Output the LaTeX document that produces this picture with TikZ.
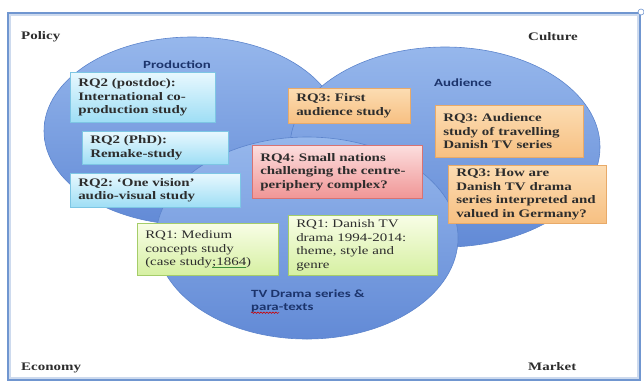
\documentclass[tikz,border=0pt]{standalone}
\usepackage{fontspec}
\setmainfont[FakeStretch=1.3]{Liberation Serif}
\newfontfamily\labelfont[FakeStretch=1.35]{Carlito}
\usetikzlibrary{shadows,decorations.pathmorphing}
\frenchspacing

\definecolor{framecol}{RGB}{112,150,208}
\definecolor{elltop}{RGB}{150,183,236}
\definecolor{ellbot}{RGB}{98,138,214}
\definecolor{ellline}{RGB}{92,132,204}
\definecolor{labelblue}{RGB}{28,52,108}
\definecolor{bluetop}{RGB}{232,248,254}
\definecolor{bluebot}{RGB}{158,222,245}
\definecolor{blueline}{RGB}{125,198,228}
\definecolor{orangetop}{RGB}{252,220,178}
\definecolor{orangebot}{RGB}{247,192,130}
\definecolor{orangeline}{RGB}{232,170,105}
\definecolor{pinktop}{RGB}{252,222,222}
\definecolor{pinkbot}{RGB}{240,150,150}
\definecolor{pinkline}{RGB}{215,115,115}
\definecolor{greentop}{RGB}{248,253,230}
\definecolor{greenbot}{RGB}{214,240,162}
\definecolor{greenline}{RGB}{165,205,105}
\definecolor{textgray}{RGB}{45,45,45}
\definecolor{gramgreen}{RGB}{60,140,60}

\newcommand{\gramline}[1]{\setbox0=\hbox{#1}\rlap{\textcolor{gramgreen}{\rule[-2.2pt]{\wd0}{0.6pt}}}#1}

\begin{document}
\begin{tikzpicture}[x=1pt, y=-1pt,
    rq/.style = {draw, anchor=north west, align=left, inner xsep=8pt, inner ysep=2pt, line width=0.5pt,
                 font=\fontsize{11.5}{13.5}\selectfont\bfseries, text=textgray,
                 drop shadow={shadow xshift=1.2pt, shadow yshift=-1.2pt, opacity=.3}},
    rqblue/.style = {rq, top color=bluetop, bottom color=bluebot, draw=blueline},
    rqorange/.style = {rq, top color=orangetop, bottom color=orangebot, draw=orangeline},
    rqpink/.style = {rq, top color=pinktop, bottom color=pinkbot, draw=pinkline},
    rqgreen/.style = {rq, top color=greentop, bottom color=greenbot, draw=greenline,
                      font=\fontsize{11.5}{13.5}\selectfont},
    bubble/.style = {top color=elltop, bottom color=ellbot, draw=ellline, line width=0.6pt},
    corner/.style = {anchor=west, inner sep=0pt, font=\fontsize{11.5}{14}\selectfont\bfseries, text=textgray},
    field/.style = {inner sep=0pt, font=\labelfont\bfseries\fontsize{11}{12.5}\selectfont, text=labelblue},
    squiggle/.style = {red!80!black, line width=0.6pt, decorate,
                       decoration={snake, amplitude=0.7pt, segment length=3pt}}]

    \useasboundingbox (0,0) rectangle (644,383);
    \draw[framecol!35, line width=2pt] (10,15) rectangle (638,378);
    \draw[framecol, line width=1.2pt] (8,13) rectangle (640,380);
    \draw[framecol, fill=white, line width=0.6pt] (641,12) circle [radius=3pt];

    % the three fields
    \draw[bubble] (192,131) ellipse [x radius=148pt, y radius=94pt];
    \draw[bubble] (445,147) ellipse [x radius=155pt, y radius=100pt];
    \draw[bubble] (307,238) ellipse [x radius=151pt, y radius=101pt];

    \node[corner] (policy) at (21,37) {Policy};
    \node[corner] (culture) at (528,37) {Culture};
    \node[corner] (economy) at (21,368) {Economy};
    \node[corner] (market) at (528,367) {Market};

    \node[field] (production) at (177,65) {Production};
    \node[field] (audience) at (463,83) {Audience};
    \node[field, anchor=west, align=left] (tvdrama) at (251,301) {TV Drama series \&\\ para-texts};
    \draw[squiggle] ([yshift=-0.5pt]tvdrama.south west) -- ++(28,0);

    % research questions
    \node[rqblue, text width=129pt, minimum height=50pt] (postdoc) at (70,72) {RQ2 (postdoc):\\ International co-\\ production study};
    \node[rqblue, text width=130pt, minimum height=33pt] (phd) at (82,131) {RQ2 (PhD):\\ Remake-study};
    \node[rqblue, text width=154pt, minimum height=34pt] (onevision) at (70,173) {RQ2: ‘One vision’\\ audio-visual study};
    \node[rqorange, text width=106pt, minimum height=35pt] (firstaud) at (288,88) {RQ3: First\\ audience study};
    \node[rqpink, text width=154pt, minimum height=53pt] (smallnat) at (252,145) {RQ4: Small nations\\ challenging the centre-\\ periphery complex?};
    \node[rqorange, text width=132pt, minimum height=52pt] (travel) at (435,105) {RQ3: Audience\\ study of travelling\\ Danish TV series};
    \node[rqorange, text width=142pt, minimum height=58pt] (germany) at (448,165) {RQ3: How are\\ Danish TV drama\\ series interpreted and\\ valued in Germany?};
    \node[rqgreen, text width=125pt, minimum height=52pt] (medium) at (137,223) {RQ1: Medium\\ concepts study\\ (case study\gramline{;1864})};
    \node[rqgreen, text width=133pt, minimum height=60pt] (danishtv) at (288,215) {RQ1: Danish TV\\ drama 1994-2014:\\ theme, style and\\ genre};
\end{tikzpicture}
\end{document}
